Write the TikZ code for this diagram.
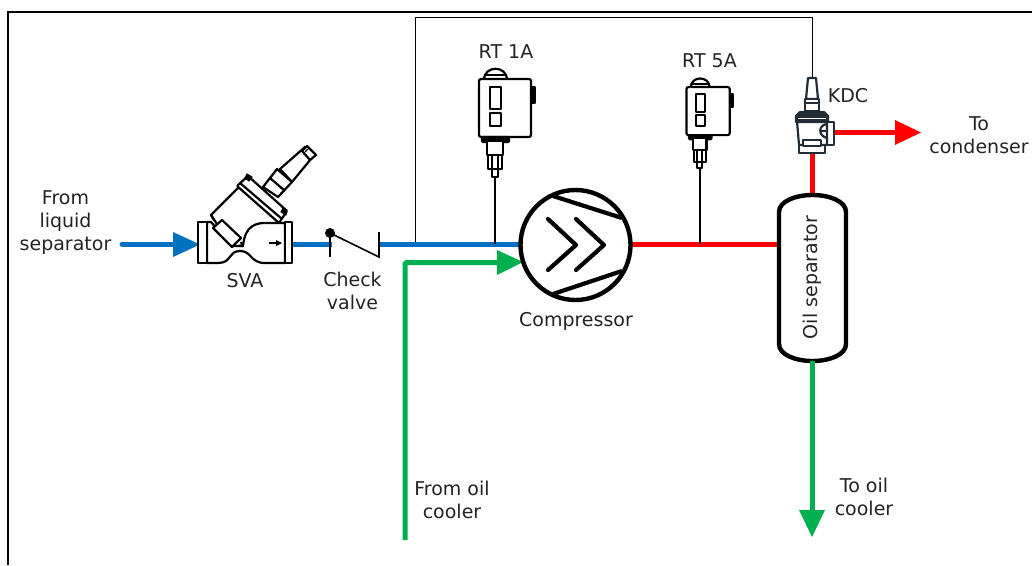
\documentclass[tikz,border=0pt]{standalone}
\usepackage{fontspec}
\setmainfont{DejaVu Sans}
\definecolor{pipeblue}{RGB}{0,112,192}
\definecolor{pipegreen}{RGB}{0,176,80}
\definecolor{pipered}{RGB}{255,0,0}
\definecolor{kdcdark}{RGB}{35,45,55}
\definecolor{labtext}{RGB}{35,35,35}
\tikzset{
 lab/.style={font=\fontsize{19}{23}\selectfont,align=center,inner sep=0pt,text=labtext},
 blue pipe/.style={draw=pipeblue,line width=5pt},
 green pipe/.style={draw=pipegreen,line width=5pt},
 red pipe/.style={draw=pipered,line width=5pt},
 sym/.style={draw=black,line width=2.2pt,line join=round,fill=white},
 symn/.style={draw=black,line width=2.2pt,line join=round},
 thick sym/.style={draw=black,line width=4.2pt},
 kdc/.style={draw=kdcdark,line width=2.2pt,line join=round,fill=white},
}
\newcommand{\pressSwitch}[3]{% x y scale: origin top-left of body
\begin{scope}[shift={(#1,#2)},x=#3pt,y=-#3pt]
 \draw[sym] (5,1) .. controls (5,-14) and (28,-14) .. (28,1) -- cycle;
 \draw[symn] (7,-4) -- (26,-4);
 \draw[sym,fill=black] (52,8) rectangle (56,24);
 \draw[sym,rounded corners=2pt] (0,0) rectangle (52,58);
 \draw[sym] (11,8) rectangle (22,30);
 \draw[sym] (11,34) rectangle (22,47);
 \draw[sym,fill=black,rounded corners=1pt] (3,58) rectangle (30,63);
 \draw[sym] (8,63) -- (8,76) -- (24,76) -- (24,63);
 \draw[sym] (9,76) rectangle (23,90);
 \draw[symn] (13,76) -- (13,90) (19,76) -- (19,90);
 \draw[sym] (13,90) rectangle (19,98);
\end{scope}}
\begin{document}
\begin{tikzpicture}[x=1pt,y=-1pt]
\useasboundingbox (0,0) rectangle (1032,565);
% frame
\coordinate (fbl) at (8,565); \coordinate (ftl) at (8,11.5);
\coordinate (ftr) at (1032,11.5);
\draw[line width=2pt] (fbl) -- (ftl) -- (ftr);
% control line
\coordinate (cA) at (415.5,244); \coordinate (cB) at (415.5,17.5);
\coordinate (cC) at (812.5,17.5); \coordinate (cD) at (812.5,80);
\draw[line width=.8pt] (cA) -- (cB) -- (cC) -- (cD);
% ---- pipes ----
\coordinate (p1) at (122,244); \coordinate (p2) at (176,244);
\draw[blue pipe,line cap=round] (p1) -- (p2);
\fill[pipeblue] (173,232) -- (200,244.5) -- (173,257) -- cycle;
\coordinate (p3) at (290,244.5); \coordinate (p4) at (332,244.5);
\draw[blue pipe] (p3) -- (p4);
\coordinate (p5) at (378,244.5); \coordinate (p6) at (521,244.5);
\draw[blue pipe] (p5) -- (p6);
% green in
\coordinate (g1) at (405,540); \coordinate (g2) at (405,262.5); \coordinate (g3) at (500,262.5);
\draw[green pipe,rounded corners=1.5pt] (g1) -- (g2) -- (g3);
\fill[pipegreen] (497,250) -- (523,262) -- (497,275) -- cycle;
% red out
\coordinate (r1) at (628,244.5); \coordinate (r2) at (779,244.5);
\draw[red pipe] (r1) -- (r2);
% compressor
\node[circle,draw=black,line width=4.4pt,fill=white,minimum size=110pt,inner sep=0pt] (comp) at (575.5,245) {};
\draw[thick sym] (553,196) -- (622,218);
\draw[thick sym] (553,294) -- (622,271);
\draw[thick sym,line cap=round,line join=round] (548,219) -- (576,245) -- (548,270);
\draw[thick sym,line cap=round,line join=round] (576,219) -- (604,245) -- (576,270);
% sensor stems
\coordinate (s1t) at (495,176); \coordinate (s1b) at (495,244);
\draw[line width=1.6pt] (s1t) -- (s1b);
\coordinate (s2t) at (700,166); \coordinate (s2b) at (700,244);
\draw[line width=1.6pt] (s2t) -- (s2b);
% RT switches
\pressSwitch{479}{79}{1}
\pressSwitch{686.5}{87}{.83}
\node[lab] (rt1) at (506,52) {RT 1A};
\node[lab] (rt5) at (709.5,61) {RT 5A};
% Oil separator
\coordinate (r3) at (812,150); \coordinate (r4) at (812,195);
\draw[red pipe] (r3) -- (r4);
\coordinate (r5) at (832,132.5); \coordinate (r6) at (898,132.5);
\draw[red pipe] (r5) -- (r6);
\fill[pipered] (895,120) -- (921,132.5) -- (895,145) -- cycle;
\draw[line width=4.4pt,fill=white] (779,212) .. controls (779,201) and (796,195) .. (812.5,195) .. controls (829,195) and (846,201) .. (846,212) -- (846,344) .. controls (846,355) and (829,361) .. (812.5,361) .. controls (796,361) and (779,355) .. (779,344) -- cycle;
\node[lab,rotate=90] (oil) at (812,277.5) {Oil separator};
\coordinate (g4) at (812,361); \coordinate (g5) at (812,512);
\draw[green pipe] (g4) -- (g5);
\fill[pipegreen] (799,510) -- (812,537) -- (825,510) -- cycle;
% KDC
\begin{scope}[shift={(812,78)}]
 \draw[kdc] (-4,0) -- (4,0) -- (6,21) -- (-6,21) -- cycle;
 \draw[kdc] (-7,21) rectangle (7,33);
 \draw[kdc] (-6,25) -- (6,25);
 \draw[kdc] (15,44) rectangle (22,67);
 \draw[kdc] (-15,43) -- (15,43) -- (15,67) -- (-13,67) -- cycle;
 \draw[kdc,fill=kdcdark] (-12,34) -- (12,34) -- (16,38) -- (16,44) -- (-16,44) -- (-16,38) -- cycle;
 \draw[draw=white,line width=1pt] (-14,40.5) -- (14,40.5);
 \draw[kdc,fill=none] (15,46) .. controls (6,47) and (6,58) .. (15,60);
 \draw[kdc] (8,53) -- (15,53);
 \draw[kdc,line width=2.6pt] (-13,67) rectangle (13,75);
 \draw[kdc] (-9,62) rectangle (9,68);
\end{scope}
\node[lab] (kdcl) at (848,96) {KDC};
% SVA
% bonnet
\draw[sym] (211,215) -- (240,186) -- (280,222) -- (245,245) -- (232,247) -- cycle;
% body
\draw[sym] (207,222) -- (211,222) -- (232,246) -- (243,246) .. controls (245,226) and (255,222) .. (270,223) -- (285,223) -- (285,263) -- (265,263) .. controls (250,263) and (252,251) .. (240,251) .. controls (228,251) and (232,263) .. (218,263) -- (207,263) -- cycle;
\draw[sym] (198,222) rectangle (207,263);
\draw[sym] (285,222) rectangle (292,263);
% flange
\draw[sym,rounded corners=1pt] (237,186) -- (248,176) -- (287,211) -- (279,223) -- cycle;
\draw[symn] (240,183) -- (282,219);
\draw[draw=black,fill=black,line width=1pt] (247,174) -- (252,177) -- (249,181) -- (245,178) -- cycle;
\draw[draw=black,fill=black,line width=1pt] (283,208) -- (287,210) -- (286,215) -- (281,212) -- cycle;
% stem
\draw[sym] (263,187) -- (277,169) -- (292,182) -- (278,197) -- cycle;
\draw[symn] (270,178) -- (285,191);
\draw[sym] (280,169) -- (305,147) -- (315,154) -- (292,182) -- cycle;
\draw[sym] (302,151) -- (307,146) -- (316,155) -- (310,160) -- cycle;
\draw[symn,line width=1.4pt] (305,152) -- (308,149);
% internal plug
\draw[sym] (213,228) -- (222,220) -- (241,238) -- (232,247) -- cycle;
\draw[symn] (241,242) -- (243,247);
\draw[symn] (211,215) -- (214,220);
% flow arrow
\draw[line width=1.7pt] (269,243) -- (277,243);
\fill (276,240) -- (282,243) -- (276,246) -- cycle;
% check valve
\coordinate (cv1) at (330,233); \coordinate (cv2) at (330,257); \coordinate (cv3) at (379,257); \coordinate (cv4) at (379,232);
\draw[line width=1.6pt] (cv1) -- (cv2);
\draw[line width=1.6pt,line join=miter] (cv1) -- (cv3) -- (cv4);
\fill (cv1) circle (5pt);
% labels
\node[lab] (sva) at (245,281) {SVA};
\node[lab] (cvl) at (352.5,291) {Check\\valve};
\node[lab] (fls) at (65.5,222.5) {From\\liquid\\separator};
\node[lab] (compl) at (576,321) {Compressor};
\node[lab] (foc) at (452,499.5) {From oil\\cooler};
\node[lab] (toc) at (864,497) {To oil\\cooler};
\node[lab] (tcd) at (979,135.5) {To\\condenser};
\end{tikzpicture}
\end{document}
